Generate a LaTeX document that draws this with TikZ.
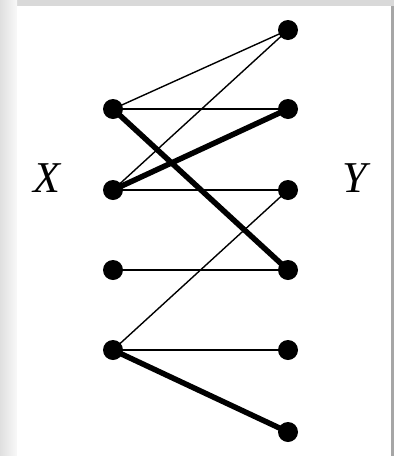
\documentclass[tikz,border=0pt]{standalone}
\usepackage{fontspec}
\setmainfont{Liberation Serif}
\begin{document}
\begin{tikzpicture}[x=1pt,y=-1pt,
  dot/.style={circle,fill=black,inner sep=0pt,minimum size=20pt},
  thin edge/.style={line width=1.4pt},
  thick edge/.style={line width=5.5pt},
  lab/.style={font=\fontsize{44}{50}\selectfont\itshape,inner sep=0pt}]
\useasboundingbox (0,0) rectangle (394,456);
\shade[top color=gray!30,bottom color=gray!8] (0,0) rectangle (394,456);
\shade[left color=gray!25,right color=gray!5] (0,0) rectangle (17,456);
\fill[white] (17,6) rectangle (391,456);
\fill[gray!70] (391,6) rectangle (394,456);
\node[dot] (l1) at (113,109) {};
\node[dot] (l2) at (113,190) {};
\node[dot] (l3) at (113,270) {};
\node[dot] (l4) at (113,350) {};
\node[dot] (r1) at (288,30) {};
\node[dot] (r2) at (288,109) {};
\node[dot] (r3) at (288,190) {};
\node[dot] (r4) at (288,270) {};
\node[dot] (r5) at (288,350) {};
\node[dot] (r6) at (288,432) {};
\node[lab] (x) at (47,178) {X};
\node[lab] (y) at (355,178) {Y};
\draw[thin edge] (l1.center) -- (r1.center);
\draw[thin edge] (l1.center) -- (r2.center);
\draw[thin edge] (l2.center) -- (r1.center);
\draw[thin edge] (l2.center) -- (r3.center);
\draw[thin edge] (l3.center) -- (r4.center);
\draw[thin edge] (l4.center) -- (r3.center);
\draw[thin edge] (l4.center) -- (r5.center);
\draw[thick edge] (l1.center) -- (r4.center);
\draw[thick edge] (l2.center) -- (r2.center);
\draw[thick edge] (l4.center) -- (r6.center);
\end{tikzpicture}
\end{document}
